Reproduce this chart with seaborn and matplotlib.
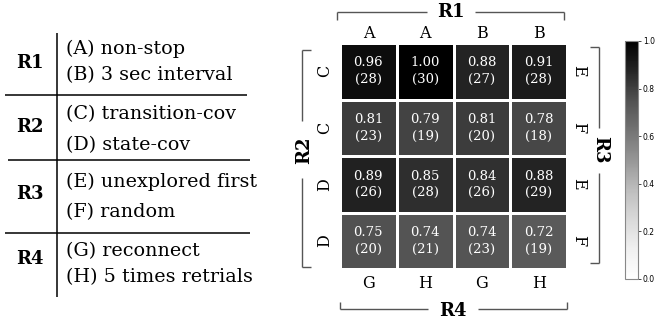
import numpy as np
import pandas as pd
import matplotlib
matplotlib.use("Agg")
import matplotlib.pyplot as plt
from matplotlib.lines import Line2D
import seaborn as sns

# Success rate and number of successful runs for each configuration
rates = [
    [0.96, 1.00, 0.88, 0.91],
    [0.81, 0.79, 0.81, 0.78],
    [0.89, 0.85, 0.84, 0.88],
    [0.75, 0.74, 0.74, 0.72],
]
counts = [
    [28, 30, 27, 28],
    [23, 19, 20, 18],
    [26, 28, 26, 29],
    [20, 21, 23, 19],
]
top_labels = ["A", "A", "B", "B"]
bottom_labels = ["G", "H", "G", "H"]
left_labels = ["C", "C", "D", "D"]
right_labels = ["E", "F", "E", "F"]
group_names = ["R1", "R2", "R3", "R4"]
group_options = [
    ["(A) non-stop", "(B) 3 sec interval"],
    ["(C) transition-cov", "(D) state-cov"],
    ["(E) unexplored first", "(F) random"],
    ["(G) reconnect", "(H) 5 times retrials"],
]
cbar_ticks = [0.0, 0.2, 0.4, 0.6, 0.8, 1.0]

SERIF = "DejaVu Serif"
W, H = 660, 324


def fx(x):
    return x / W


def fy(y):
    return 1 - y / H


fig = plt.figure(figsize=(W / 100, H / 100), dpi=100)


def seg(x0, y0, x1, y1, color="#555555", lw=1.0):
    fig.add_artist(Line2D([fx(x0), fx(x1)], [fy(y0), fy(y1)],
                          transform=fig.transFigure, color=color, lw=lw,
                          solid_capstyle="butt"))


# ---- legend table on the left ----
seg(57, 33, 57, 297, color="black", lw=1.1)
for y, x0, x1 in [(95, 5, 247), (160, 8, 250), (233, 5, 250)]:
    seg(x0, y, x1, y, color="black", lw=1.1)

name_y = [63, 127, 194, 259]
option_y = [(49, 75), (114, 145), (182, 212), (251, 277)]
for name, ny, opts, (y1, y2) in zip(group_names, name_y, group_options, option_y):
    fig.text(fx(30), fy(ny), name, family=SERIF, fontweight="bold",
             fontsize=13, ha="center", va="center")
    fig.text(fx(66), fy(y1), opts[0], family=SERIF, fontsize=13.8,
             ha="left", va="center")
    fig.text(fx(66), fy(y2), opts[1], family=SERIF, fontsize=13.8,
             ha="left", va="center")

# ---- heatmap ----
df = pd.DataFrame(rates, index=left_labels, columns=bottom_labels)
annot = np.array([[f"{r:.2f}\n({c})" for r, c in zip(rr, cc)]
                  for rr, cc in zip(rates, counts)])

ax = fig.add_axes([fx(340), fy(269), 227 / W, 226 / H])
cax = fig.add_axes([fx(625), fy(279), 13 / W, 238 / H])

sns.heatmap(df, ax=ax, cbar_ax=cax, cmap="Greys", vmin=0, vmax=1,
            annot=annot, fmt="",
            annot_kws=dict(color="white", fontsize=9.5, family=SERIF,
                           linespacing=1.35),
            linewidths=2, linecolor="white",
            xticklabels=bottom_labels, yticklabels=left_labels)

ax.tick_params(length=0)
ax.tick_params(axis="x", pad=4)
ax.tick_params(axis="y", pad=5)
ax.set_xticklabels(bottom_labels, family=SERIF, fontsize=11.5, rotation=0)
ax.set_yticklabels(left_labels, family=SERIF, fontsize=11.5, rotation=90,
                   va="center")
ax.set_xlabel("")
ax.set_ylabel("")

top = ax.secondary_xaxis("top")
top.set_xticks(ax.get_xticks(), labels=top_labels)
top.tick_params(length=0, pad=1)
for t in top.get_xticklabels():
    t.set_family(SERIF)
    t.set_fontsize(11.5)
top.spines["top"].set_visible(False)

right = ax.secondary_yaxis("right")
right.set_yticks(ax.get_yticks(), labels=right_labels)
right.tick_params(length=0, pad=2)
for t in right.get_yticklabels():
    t.set_family(SERIF)
    t.set_fontsize(11.5)
    t.set_rotation(270)
    t.set_va("center")
right.spines["right"].set_visible(False)

# colorbar
cbar = ax.collections[0].colorbar
cbar.set_ticks(cbar_ticks)
cbar.ax.tick_params(labelsize=5.5, length=2, width=0.5, pad=1.5)
cbar.outline.set_edgecolor("#888888")
cbar.outline.set_linewidth(0.8)

# ---- group brackets around the heatmap ----
bracket_kw = dict(family=SERIF, fontweight="bold", fontsize=13,
                  ha="center", va="center")
# R1 (top)
seg(337, 20, 337, 12)
seg(337, 12, 427, 12)
seg(475, 12, 564, 12)
seg(564, 12, 564, 20)
fig.text(fx(451), fy(12), "R1", **bracket_kw)
# R2 (left)
seg(311, 50, 302, 50)
seg(302, 50, 302, 121)
seg(302, 178, 302, 267)
seg(302, 267, 311, 267)
fig.text(fx(304), fy(150), "R2", rotation=90, **bracket_kw)
# R3 (right)
seg(590, 47, 599, 47)
seg(599, 47, 599, 128)
seg(599, 173, 599, 263)
seg(599, 263, 590, 263)
fig.text(fx(600), fy(150), "R3", rotation=270, **bracket_kw)
# R4 (bottom)
seg(340, 302, 340, 309)
seg(340, 309, 428, 309)
seg(478, 309, 567, 309)
seg(567, 309, 567, 302)
fig.text(fx(453), fy(311), "R4", **bracket_kw)

fig.savefig("out.png", dpi=100)
